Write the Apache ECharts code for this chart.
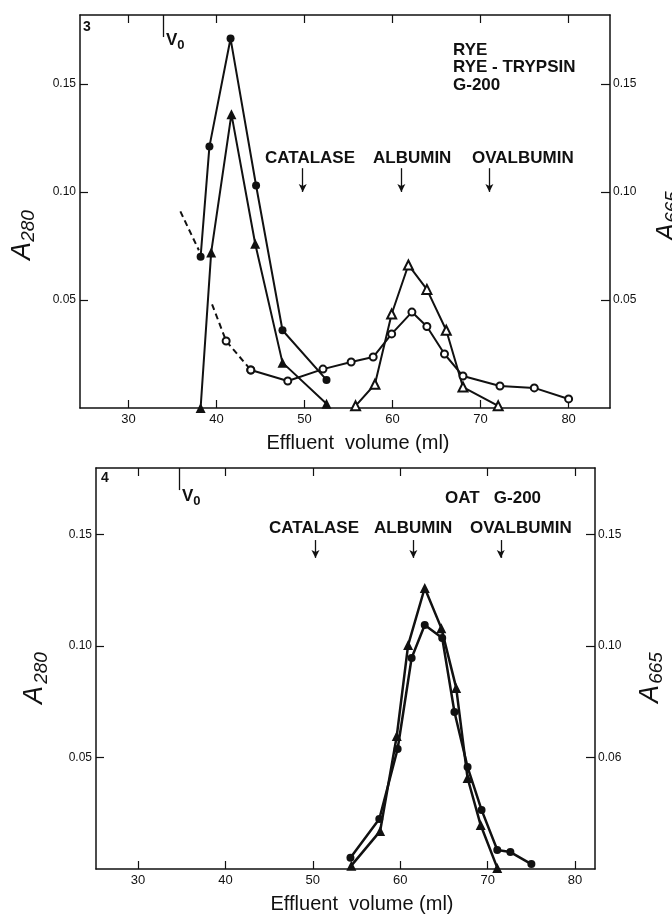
<!DOCTYPE html>
<html>
<head>
<meta charset="utf-8">
<title>RYE / OAT G-200</title>
<script src="https://cdn.jsdelivr.net/npm/echarts@6.0.0/dist/echarts.min.js"></script>
<style>
  html, body { margin: 0; padding: 0; background: #fff; }
  #container { width: 672px; height: 918px; }
</style>
</head>
<body>
<div id="container"></div>
<script>
// 刻度
var xTicks = [30, 40, 50, 60, 70, 80];
var yTicks = [0.05, 0.10, 0.15];

// fig 3 -- rye / rye-trypsin, [ml, absorbance]
var ryeA280 = [[38.2, 0.070], [39.2, 0.121], [41.6, 0.171], [44.5, 0.103], [47.5, 0.036], [52.5, 0.013]];
var ryeTrypsinA280 = [[38.2, 0.0], [39.4, 0.072], [41.7, 0.136], [44.4, 0.076], [47.5, 0.021], [52.5, 0.002]];
var ryeA665 = [[41.1, 0.031], [43.9, 0.0176], [48.1, 0.0125], [52.1, 0.018], [55.3, 0.0213], [57.8, 0.0236],
  [59.9, 0.0343], [62.2, 0.0444], [63.9, 0.0377], [65.9, 0.025], [68.0, 0.0148], [72.2, 0.0102],
  [76.1, 0.0093], [80.0, 0.0042]];
var ryeA665LeadA = [[35.9, 0.091], [38.0, 0.073]]; // 虚线
var ryeA665LeadB = [[39.5, 0.048]];
var ryeTrypsinA665 = [[55.8, 0.001], [58.0, 0.011], [59.9, 0.0435], [61.8, 0.0662], [63.9, 0.0549],
  [66.1, 0.036], [68.0, 0.0097], [72.0, 0.001]];

// fig 4 -- oat
var oatCircles = [[54.3, 0.005], [57.6, 0.0224], [59.7, 0.0538], [61.3, 0.0946], [62.8, 0.1094], [64.8, 0.1036],
  [66.2, 0.0704], [67.7, 0.0457], [69.3, 0.0265], [71.1, 0.0085], [72.6, 0.0076], [75.0, 0.0022]];
var oatTriangles = [[54.4, 0.0015], [57.7, 0.017], [59.6, 0.0596], [60.9, 0.1004], [62.8, 0.126], [64.7, 0.108],
  [66.4, 0.0812], [67.7, 0.0408], [69.2, 0.0197], [71.1, 0.0005]];

// 标记物 catalase, albumin, ovalbumin 和 V0
var markerNames = ["CATALASE", "ALBUMIN", "OVALBUMIN"];
var markersTop = [49.8, 61.0, 71.0];
var markersBottom = [50.3, 61.5, 71.5];
var voidTop = 33.9;
var voidBottom = 34.7;

var FONT = "Liberation Sans";
var INK = "#111";

function xAxes(grid, min, max) {
  return [
    {
      gridIndex: grid, type: "value", min: min, max: max, position: "bottom",
      axisLine: { show: true, onZero: false, lineStyle: { color: INK, width: 1.5 } },
      axisTick: { show: true, inside: true, length: 8, customValues: xTicks, lineStyle: { color: INK, width: 1.2 } },
      axisLabel: { customValues: xTicks, color: INK, fontFamily: FONT, fontSize: 13, margin: 5 },
      splitLine: { show: false }
    },
    {
      gridIndex: grid, type: "value", min: min, max: max, position: "top",
      axisLine: { show: true, onZero: false, lineStyle: { color: INK, width: 1.5 } },
      axisTick: { show: true, inside: true, length: 8, customValues: xTicks, lineStyle: { color: INK, width: 1.2 } },
      axisLabel: { show: false },
      splitLine: { show: false }
    }
  ];
}

function yAxes(grid, max, rightFmt) {
  var fmt = function (v) { return v.toFixed(2); };
  return [
    {
      gridIndex: grid, type: "value", min: 0, max: max, position: "left",
      axisLine: { show: true, lineStyle: { color: INK, width: 1.5 } },
      axisTick: { show: true, inside: true, length: 8, customValues: yTicks, lineStyle: { color: INK, width: 1.2 } },
      axisLabel: { customValues: yTicks, formatter: fmt, color: INK, fontFamily: FONT, fontSize: 12, margin: 4 },
      splitLine: { show: false }
    },
    {
      gridIndex: grid, type: "value", min: 0, max: max, position: "right",
      axisLine: { show: true, lineStyle: { color: INK, width: 1.5 } },
      axisTick: { show: true, inside: true, length: 9, customValues: yTicks, lineStyle: { color: INK, width: 1.2 } },
      axisLabel: { customValues: yTicks, formatter: rightFmt || fmt, color: INK, fontFamily: FONT, fontSize: 12, margin: 3 },
      splitLine: { show: false }
    }
  ];
}

function curve(data, xi, yi, symbol, size, dashed, width) {
  return {
    type: "line", xAxisIndex: xi, yAxisIndex: yi, data: data,
    symbol: symbol, symbolSize: size, showAllSymbol: true,
    lineStyle: { color: INK, width: width || 2, type: dashed ? [6, 4] : "solid" },
    itemStyle: { color: INK, borderWidth: 1.5 },
    animation: false, silent: true, z: symbol.indexOf("empty") === 0 ? 3 : 2
  };
}

// 箭头 + V0
function markers(list, v0, ymax, yFrom, yTo, v0Len) {
  var lines = list.map(function (x) {
    return [{ coord: [x, yFrom], symbol: "none" }, { coord: [x, yTo], symbol: "arrow", symbolSize: [6, 8] }];
  });
  lines.push([{ coord: [v0, ymax], symbol: "none" }, { coord: [v0, ymax - v0Len], symbol: "none" }]);
  return {
    silent: true, animation: false,
    label: { show: false },
    lineStyle: { color: INK, width: 1.3, type: "solid" },
    data: lines
  };
}

var topMax = 0.1819;
var botMax = 0.1798;

var seriesList = [
  curve(ryeA280, 0, 0, "circle", 8),
  curve(ryeTrypsinA280, 0, 0, "triangle", 10),
  curve(ryeA665LeadA, 0, 1, "none", 0, true),
  curve(ryeA665LeadB.concat(ryeA665.slice(0, 2)).map(function (p, i) {
    return i === 0 ? { value: p, symbol: "none" } : { value: p };
  }), 0, 1, "emptyCircle", 7, true),
  curve(ryeA665.slice(1), 0, 1, "emptyCircle", 7),
  curve(ryeTrypsinA665, 0, 1, "emptyTriangle", 9),
  curve(oatCircles, 2, 2, "circle", 8, false, 2.5),
  curve(oatTriangles, 2, 2, "triangle", 10, false, 2.5)
];
seriesList[0].markLine = markers(markersTop, voidTop, topMax, 0.111, 0.100, 0.0102);
seriesList[6].markLine = markers(markersBottom, voidBottom, botMax, 0.1475, 0.1395, 0.0099);

function txt(x, y, s, size, weight, extra) {
  var st = { text: s, x: 0, y: 0, fill: INK, fontFamily: FONT, fontSize: size, fontWeight: weight || "bold",
    align: "left", verticalAlign: "middle" };
  for (var k in extra || {}) st[k] = extra[k];
  return { type: "text", x: x, y: y, style: st, silent: true };
}

function rot(x, y, s, size, italic) {
  return {
    type: "text", x: x, y: y, rotation: Math.PI / 2, silent: true,
    style: { text: s, fill: INK, fontFamily: FONT, fontSize: size, fontStyle: italic ? "italic" : "normal",
      align: "center", verticalAlign: "middle" }
  };
}

var subRich = { rich: { v: { fontSize: 17, fontWeight: "bold", fontFamily: FONT, fill: INK },
  s: { fontSize: 13, fontWeight: "bold", fontFamily: FONT, fill: INK, padding: [10, 0, 0, 0] } } };

var graphics = [
  // fig 3
  txt(83, 27, "3", 14),
  txt(166, 40, "{v|V}{s|0}", 16, "bold", subRich),
  txt(453, 50, "RYE", 17),
  txt(453, 67, "RYE - TRYPSIN", 17),
  txt(453, 85, "G-200", 17),
  txt(265, 158, markerNames[0], 17),
  txt(373, 158, markerNames[1], 17),
  txt(472, 158, markerNames[2], 17),
  txt(358, 443, "Effluent  volume (ml)", 20, "normal", { align: "center" }),
  rot(22, 251, "A", 27, true),
  rot(29, 226, "280", 19, true),
  rot(667, 232, "A", 27, true),
  rot(673, 207, "665", 19, true),
  // fig 4
  txt(101, 478, "4", 14),
  txt(182, 496, "{v|V}{s|0}", 16, "bold", subRich),
  txt(445, 498, "OAT   G-200", 17),
  txt(269, 528, markerNames[0], 17),
  txt(374, 528, markerNames[1], 17),
  txt(470, 528, markerNames[2], 17),
  txt(362, 904, "Effluent  volume (ml)", 20, "normal", { align: "center" }),
  rot(34, 695, "A", 27, true),
  rot(42, 668, "280", 19, true),
  rot(650, 694, "A", 27, true),
  rot(657, 668, "665", 19, true)
];

var myChart = echarts.init(document.getElementById("container"));
var option = {
  backgroundColor: "#fff",
  animation: false,
  grid: [
    { left: 80, top: 15, width: 530, height: 393 },
    { left: 96, top: 468, width: 499, height: 401 }
  ],
  xAxis: xAxes(0, 24.5, 84.7).concat(xAxes(1, 25.19, 82.28)),
  yAxis: yAxes(0, topMax).concat(yAxes(1, botMax, function (v) {
    return Math.abs(v - 0.05) < 1e-9 ? "0.06" : v.toFixed(2); // 原图如此
  })),
  series: seriesList,
  graphic: graphics
};
myChart.setOption(option);
</script>
</body>
</html>
